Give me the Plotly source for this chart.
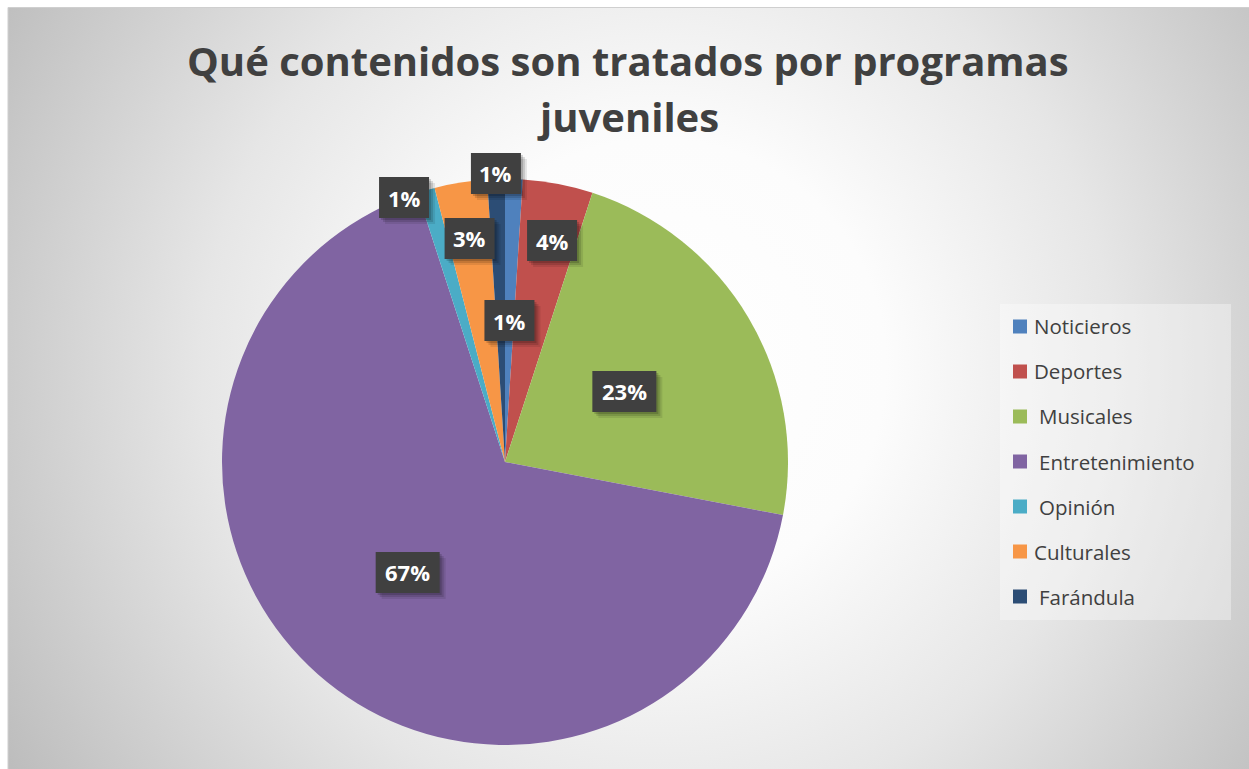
import base64
import math
import plotly.graph_objects as go

# Data: share of youth programmes by content type (percent)
categories = ["Noticieros", "Deportes", "Musicales", "Entretenimiento",
              "Opinión", "Culturales", "Farándula"]
values = [1, 4, 23, 67, 1, 3, 1]
colors = ["#4f81bd", "#c0504d", "#9bbb59", "#8064a2",
          "#4bacc6", "#f79646", "#2c4d75"]
title_lines = ["Qué contenidos son tratados por programas", "juveniles"]
# label placement: fraction of radius and angular nudge (degrees)
label_radius = [0.50, 0.80, 0.49, 0.52, 1.00, 0.80, 1.02]
label_nudge = [0.0, 1.2, 0.0, 0.0, -4.7, 0.0, 0.0]
# extra leading gap in front of some legend names (pixels)
legend_indent = [0, 0, 5, 5, 5, 0, 5]

W, H = 1249, 769
CX, CY, R = 505, 462, 283


def px(x):
    return x / W


def py(y):
    return 1 - y / H


# Soft radial background drawn as an SVG image
bg_w, bg_h = W - 8, H - 7
svg = (
    f'<svg xmlns="http://www.w3.org/2000/svg" width="{bg_w}" height="{bg_h}" '
    f'viewBox="0 0 {bg_w} {bg_h}" preserveAspectRatio="none">'
    '<defs><radialGradient id="g" gradientUnits="userSpaceOnUse" '
    'cx="650" cy="360" r="760">'
    '<stop offset="0" stop-color="#ffffff"/>'
    '<stop offset="0.3" stop-color="#fcfcfc"/>'
    '<stop offset="0.6" stop-color="#e6e6e6"/>'
    '<stop offset="1" stop-color="#bdbdbd"/>'
    '</radialGradient></defs>'
    f'<rect x="0" y="0" width="{bg_w}" height="{bg_h}" fill="url(#g)"/></svg>'
)
bg_src = "data:image/svg+xml;base64," + base64.b64encode(svg.encode()).decode()

fig = go.Figure(
    go.Pie(
        labels=categories,
        values=values,
        marker=dict(colors=colors, line=dict(width=0)),
        sort=False,
        direction="clockwise",
        rotation=0,
        textinfo="none",
        hoverinfo="label+percent",
        showlegend=False,
        domain=dict(x=[px(CX - R), px(CX + R)], y=[py(CY + R), py(CY - R)]),
    )
)

shapes = []
annotations = []

# Percentage labels in dark boxes, placed along each slice's mid-angle
total = sum(values)
cum = 0
for v, f, nudge in zip(values, label_radius, label_nudge):
    theta = math.radians((cum + v / 2) / total * 360 + nudge)
    cum += v
    lx = CX + f * R * math.sin(theta)
    ly = CY - f * R * math.cos(theta)
    txt = f"{round(v / total * 100)}%"
    bw = 50 if len(txt) == 2 else 64
    bh = 41
    # drop shadow
    for off, a in ((6, 0.09), (4, 0.13), (2, 0.16)):
        shapes.append(dict(
            type="rect", xref="paper", yref="paper", layer="above",
            x0=px(lx - bw / 2 + off), x1=px(lx + bw / 2 + off),
            y0=py(ly + bh / 2 + off), y1=py(ly - bh / 2 + off),
            line=dict(width=0), fillcolor=f"rgba(0,0,0,{a})",
        ))
    shapes.append(dict(
        type="rect", xref="paper", yref="paper", layer="above",
        x0=px(lx - bw / 2), x1=px(lx + bw / 2),
        y0=py(ly + bh / 2), y1=py(ly - bh / 2),
        line=dict(width=0), fillcolor="#404040",
    ))
    annotations.append(dict(
        x=px(lx), y=py(ly), xref="paper", yref="paper",
        text=f"<b>{txt}</b>", showarrow=False,
        font=dict(family="Open Sans", size=22, color="#ffffff"),
        xanchor="center", yanchor="middle",
    ))

# Legend panel
shapes.append(dict(
    type="rect", xref="paper", yref="paper", layer="below",
    x0=px(1000), x1=px(1231), y0=py(620), y1=py(304),
    line=dict(width=0), fillcolor="rgba(255,255,255,0.35)",
))
for i, (name, col, ind) in enumerate(zip(categories, colors, legend_indent)):
    yc = 326.5 + i * 45
    shapes.append(dict(
        type="rect", xref="paper", yref="paper", layer="above",
        x0=px(1013), x1=px(1027), y0=py(yc + 7), y1=py(yc - 7),
        line=dict(width=0), fillcolor=col,
    ))
    annotations.append(dict(
        x=px(1032 + ind), y=py(yc), xref="paper", yref="paper",
        text=name, showarrow=False,
        font=dict(family="Open Sans", size=20.5, color="#404040"),
        xanchor="left", yanchor="middle",
    ))

# Two-line chart title
for line, yc in zip(title_lines, (60, 117)):
    annotations.append(dict(
        x=px(628), y=py(yc), xref="paper", yref="paper",
        text=f"<b>{line}</b>", showarrow=False,
        font=dict(family="Open Sans", size=40, color="#404040"),
        xanchor="center", yanchor="middle",
    ))

# Chart frame
shapes.append(dict(
    type="rect", xref="paper", yref="paper", layer="below",
    x0=px(8), x1=px(W + 2), y0=py(H + 2), y1=py(7.5),
    line=dict(width=1, color="#cfcfcf"), fillcolor="rgba(0,0,0,0)",
))

fig.update_layout(
    width=W,
    height=H,
    margin=dict(l=0, r=0, t=0, b=0),
    paper_bgcolor="#ffffff",
    plot_bgcolor="rgba(0,0,0,0)",
    images=[dict(
        source=bg_src, xref="paper", yref="paper",
        x=px(8), y=py(7), sizex=px(W) - px(8), sizey=py(7) - py(H),
        xanchor="left", yanchor="top", sizing="stretch", layer="below",
    )],
    shapes=shapes,
    annotations=annotations,
)

fig.write_html("out.html")
